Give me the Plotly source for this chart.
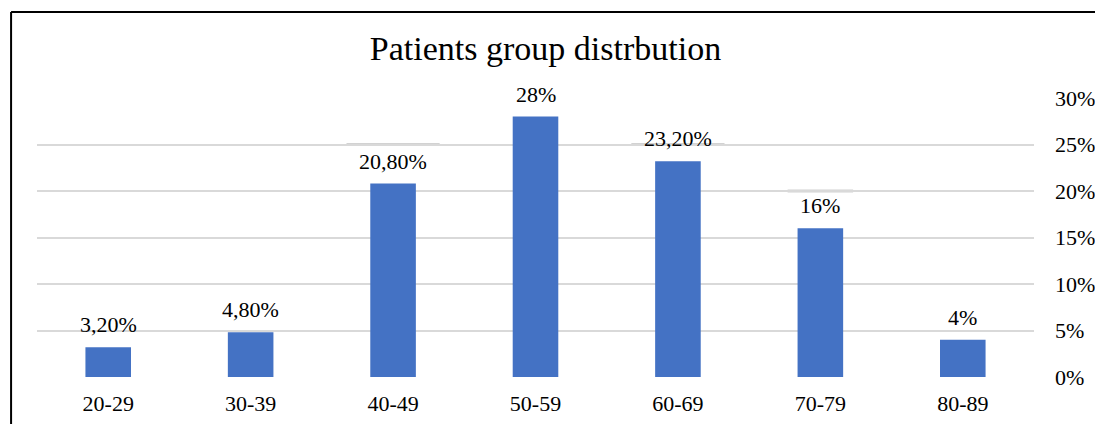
import plotly.graph_objects as go

# Age groups and share of patients in each
age_groups = ["20-29", "30-39", "40-49", "50-59", "60-69", "70-79", "80-89"]
shares = [0.032, 0.048, 0.208, 0.28, 0.232, 0.16, 0.04]
share_labels = ["3,20%", "4,80%", "20,80%", "28%", "23,20%", "16%", "4%"]
y_ticks = [0, 0.05, 0.10, 0.15, 0.20, 0.25, 0.30]
y_tick_labels = ["0%", "5%", "10%", "15%", "20%", "25%", "30%"]

SERIF = "Liberation Serif, Times New Roman, serif"

fig = go.Figure()
fig.add_trace(go.Bar(
    x=age_groups,
    y=shares,
    marker=dict(color="#4472C4", line=dict(width=0)),
    hoverinfo="skip",
))

# value labels above each bar
for g, v, t in zip(age_groups, shares, share_labels):
    fig.add_annotation(
        x=g, y=v, text=t, showarrow=False,
        xref="x", yref="y", yanchor="bottom", yshift=8,
        font=dict(family=SERIF, size=22, color="#000000"),
    )

# faint label-box edges sitting on a few gridlines
for idx, gy, half in [(2, 0.25, 0.327), (4, 0.25, 0.327), (5, 0.20, 0.23)]:
    fig.add_shape(type="line", xref="x", yref="y",
                  x0=idx - half, x1=idx + half, y0=gy, y1=gy,
                  line=dict(color="#D2D2D2", width=3), layer="below")

# outer frame of the chart
fig.add_shape(type="line", xref="paper", yref="paper",
              x0=-0.026, x1=1.07, y0=1.308, y1=1.308,
              line=dict(color="#000000", width=2))
fig.add_shape(type="line", xref="paper", yref="paper",
              x0=-0.026, x1=-0.026, y0=-0.2, y1=1.308,
              line=dict(color="#000000", width=2))

fig.update_layout(
    width=1095, height=424,
    margin=dict(l=37, r=61, t=98, b=47),
    paper_bgcolor="#FFFFFF",
    plot_bgcolor="#FFFFFF",
    bargap=0.68,
    showlegend=False,
    title=dict(
        text="Patients group distrbution",
        x=0.5 + 10 / 997, xref="paper", xanchor="center",
        y=1 - 48 / 424, yref="container", yanchor="middle",
        font=dict(family=SERIF, size=34, color="#000000"),
    ),
    xaxis=dict(
        showgrid=False, zeroline=False, showline=False, automargin=False,
        ticks="", tickfont=dict(family=SERIF, size=22, color="#000000"),
        ticklabelstandoff=11,
    ),
    yaxis=dict(
        side="right", range=[0, 0.30], automargin=False,
        tickvals=y_ticks, ticktext=y_tick_labels,
        showgrid=True, gridcolor="#D9D9D9", gridwidth=2,
        zeroline=False, showline=False, ticks="",
        tickfont=dict(family=SERIF, size=22, color="#000000"),
        ticklabelstandoff=20,
    ),
)

fig.write_html("out.html")
